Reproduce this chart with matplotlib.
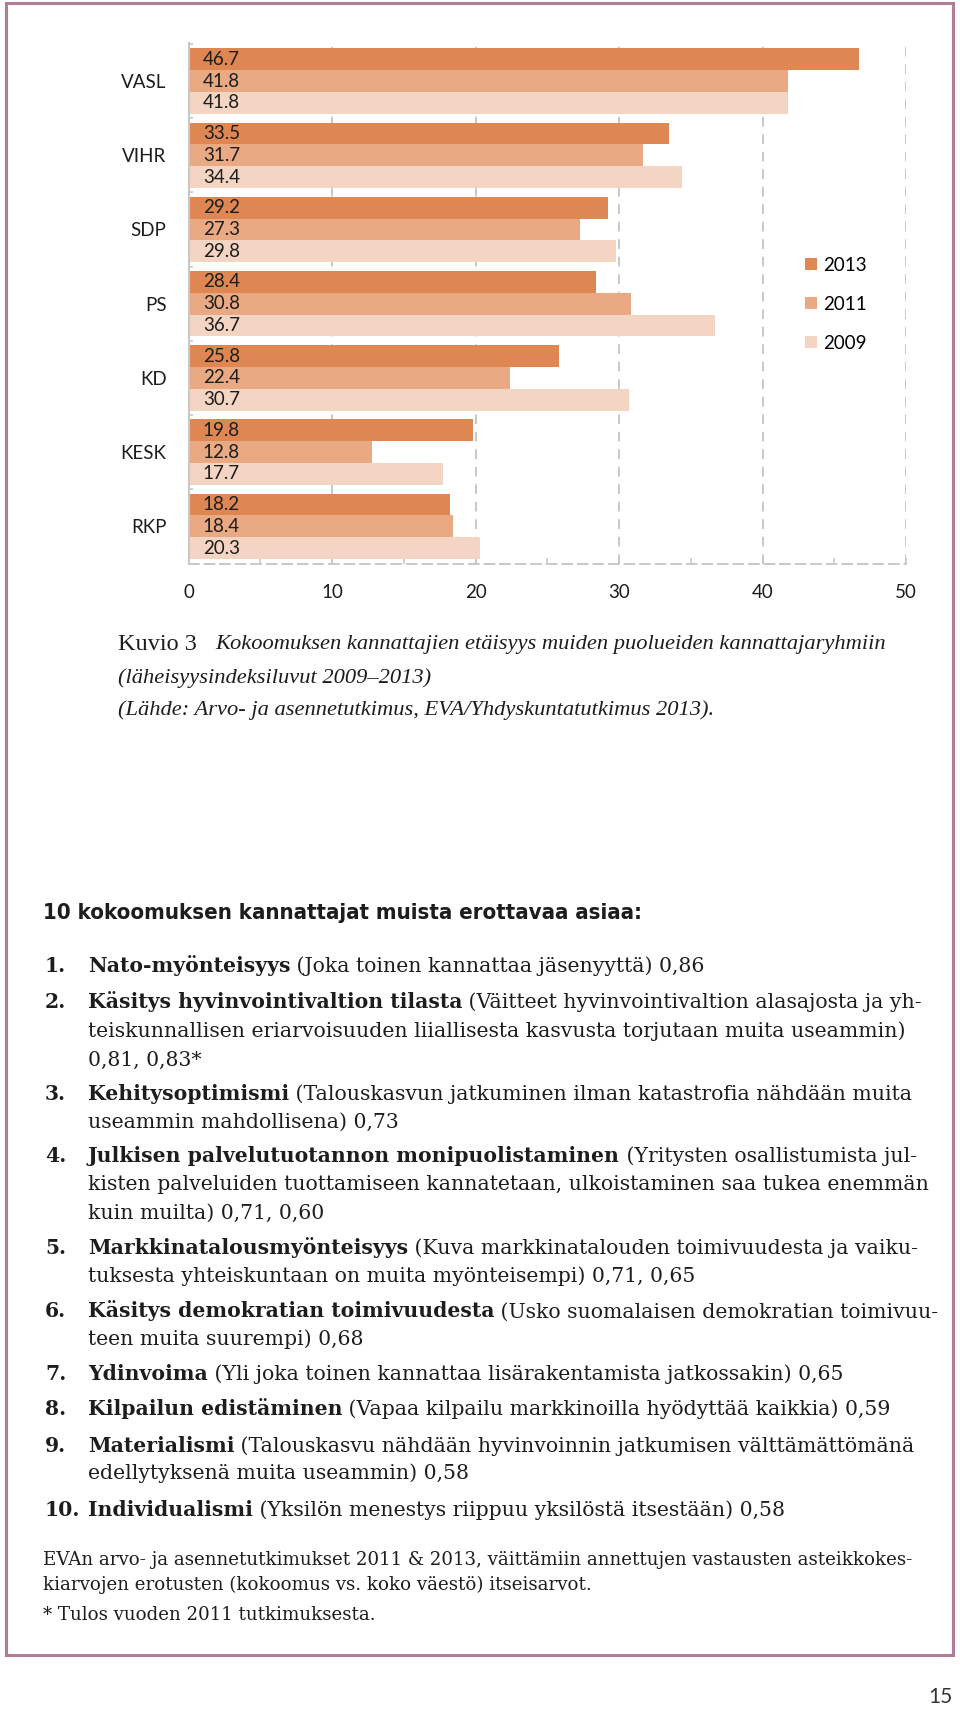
import numpy as np
import matplotlib
matplotlib.use('Agg')
import matplotlib.pyplot as plt
from matplotlib.patches import Rectangle

# chart data
parties = ['VASL', 'VIHR', 'SDP', 'PS', 'KD', 'KESK', 'RKP']
years = ['2013', '2011', '2009']
v2013 = [46.7, 33.5, 29.2, 28.4, 25.8, 19.8, 18.2]
v2011 = [41.8, 31.7, 27.3, 30.8, 22.4, 12.8, 18.4]
v2009 = [41.8, 34.4, 29.8, 36.7, 30.7, 17.7, 20.3]
xticks = [0, 10, 20, 30, 40, 50]

caption_lead = 'Kuvio 3'
caption_lines = [
    'Kokoomuksen kannattajien etäisyys muiden puolueiden kannattajaryhmiin',
    '(läheisyysindeksiluvut 2009–2013)',
    '(Lähde: Arvo- ja asennetutkimus, EVA/Yhdyskuntatutkimus 2013).',
]
heading = '10 kokoomuksen kannattajat muista erottavaa asiaa:'

items = [
    ('Nato-myönteisyys', ['(Joka toinen kannattaa jäsenyyttä) 0,86']),
    ('Käsitys hyvinvointivaltion tilasta', ['(Väitteet hyvinvointivaltion alasajosta ja yh-',
                                            'teiskunnallisen eriarvoisuuden liiallisesta kasvusta torjutaan muita useammin)',
                                            '0,81, 0,83*']),
    ('Kehitysoptimismi', ['(Talouskasvun jatkuminen ilman katastrofia nähdään muita',
                          'useammin mahdollisena) 0,73']),
    ('Julkisen palvelutuotannon monipuolistaminen', ['(Yritysten osallistumista jul-',
                                                     'kisten palveluiden tuottamiseen kannatetaan, ulkoistaminen saa tukea enemmän',
                                                     'kuin muilta) 0,71, 0,60']),
    ('Markkinatalousmyönteisyys', ['(Kuva markkinatalouden toimivuudesta ja vaiku-',
                                   'tuksesta yhteiskuntaan on muita myönteisempi) 0,71, 0,65']),
    ('Käsitys demokratian toimivuudesta', ['(Usko suomalaisen demokratian toimivuu-',
                                           'teen muita suurempi) 0,68']),
    ('Ydinvoima', ['(Yli joka toinen kannattaa lisärakentamista jatkossakin) 0,65']),
    ('Kilpailun edistäminen', ['(Vapaa kilpailu markkinoilla hyödyttää kaikkia) 0,59']),
    ('Materialismi', ['(Talouskasvu nähdään hyvinvoinnin jatkumisen välttämättömänä',
                      'edellytyksenä muita useammin) 0,58']),
    ('Individualismi', ['(Yksilön menestys riippuu yksilöstä itsestään) 0,58']),
]
footnotes = [
    'EVAn arvo- ja asennetutkimukset 2011 & 2013, väittämiin annettujen vastausten asteikkokes-',
    'kiarvojen erotusten (kokoomus vs. koko väestö) itseisarvot.',
    '* Tulos vuoden 2011 tutkimuksesta.',
]
page_number = '15'

W, H = 960, 1709
TXT = '#1d1d1b'
GRID = '#c8c8c8'
colors = ['#df8752', '#e9a983', '#f4d5c3']
SANS = ['Lato', 'DejaVu Sans']
SERIF = ['DejaVu Serif']
CAP_SERIF = ['Liberation Serif', 'DejaVu Serif']
NARROW = ['DejaVu Sans']


def fx(x):
    return x / W


def fy(y):
    return 1 - y / H


fig = plt.figure(figsize=(9.6, 17.09), dpi=100)
renderer = fig.canvas.get_renderer()

# ---- bar chart ----
ax = fig.add_axes([fx(188.6), fy(563.5), (906 - 188.6) / W, (563.5 - 42.7) / H])
pitch = 3.4
base = np.arange(len(parties)) * pitch
series = [v2013, v2011, v2009]
bars = []
for i, (vals, col, yr) in enumerate(zip(series, colors, years)):
    b = ax.barh(base + i, vals, height=1.0, align='edge', color=col, label=yr, linewidth=0)
    bars.append(b)
    for y0, v in zip(base + i, vals):
        ax.annotate(f'{v:.1f}', xy=(0, y0 + 0.5), xytext=(10.3, 0), textcoords='offset points',
                    ha='left', va='center', fontsize=13.5, family=SANS, color=TXT)

ax.set_xlim(0, 50)
ax.set_ylim(base[-1] + 3 + 0.14, -0.256)
ax.set_axisbelow(True)
ax.set_xticks(xticks)
ax.set_xticks([5, 15, 25, 35, 45], minor=True)
ax.set_xticklabels([str(t) for t in xticks], family=SANS, fontsize=13.5, color=TXT)
ax.tick_params(axis='x', which='both', direction='in', length=4, width=1.2, color=GRID, pad=15)
ax.set_yticks(base + 1.5)
ax.set_yticklabels(parties, family=SANS, fontsize=13.5, color=TXT)
ax.set_yticks(list(base - 0.2) + [base[-1] + 3.2], minor=True)
ax.tick_params(axis='y', which='major', length=0, pad=16)
ax.tick_params(axis='y', which='minor', direction='in', length=3, width=1.2, color=GRID)
ax.xaxis.grid(True, color=GRID, linestyle=(0, (5, 4)), linewidth=1.4)
ax.spines['top'].set_visible(False)
ax.spines['right'].set_visible(False)
ax.spines['left'].set_color(GRID)
ax.spines['left'].set_linewidth(1.5)
ax.spines['bottom'].set_color(GRID)
ax.spines['bottom'].set_linewidth(1.4)
ax.spines['bottom'].set_linestyle((0, (5, 3)))

ax.legend(handles=bars, labels=years, loc='upper left', bbox_to_anchor=(fx(805), fy(257)),
          bbox_transform=fig.transFigure, frameon=False, borderpad=0, borderaxespad=0,
          handlelength=0.62, handleheight=0.62, handletextpad=0.35, labelspacing=1.17,
          prop={'family': SANS, 'size': 13.5})


# ---- text helpers ----
def measure(segs, size, family, stretch='normal'):
    total = 0
    for s, w, st in segs:
        t = fig.text(0, 0, s, fontsize=size, family=family, weight=w, style=st, stretch=stretch)
        total += t.get_window_extent(renderer).width
        t.remove()
    return total


def fit_size(segs, family, target, stretch='normal'):
    return 12 * target / measure(segs, 12, family, stretch)


def draw_line(x, yc, segs, size, family, cap=0.73, stretch='normal'):
    cur = x
    yb = fy(yc + cap * size * 100 / 72 / 2)
    for s, w, st in segs:
        t = fig.text(fx(cur), yb, s, ha='left', va='baseline', fontsize=size,
                     family=family, weight=w, style=st, stretch=stretch, color=TXT)
        cur += t.get_window_extent(renderer).width
    return cur


# ---- caption ----
cap_size = fit_size([(caption_lines[0], 'normal', 'italic')], CAP_SERIF, 886 - 215)
cap_y = [642, 676, 708]
draw_line(118, cap_y[0], [(caption_lead, 'normal', 'normal')], cap_size * 1.08, CAP_SERIF, cap=0.66)
draw_line(215, cap_y[0], [(caption_lines[0], 'normal', 'italic')], cap_size, CAP_SERIF, cap=0.66)
for line, y in zip(caption_lines[1:], cap_y[1:]):
    draw_line(118, y, [(line, 'normal', 'italic')], cap_size, CAP_SERIF, cap=0.66)

# ---- heading ----
head_size = fit_size([(heading, 'bold', 'normal')], NARROW, 640 - 43, stretch='condensed')
draw_line(43, 911, [(heading, 'bold', 'normal')], head_size, NARROW, cap=0.73, stretch='condensed')

# ---- numbered list ----
list_size = fit_size([(items[1][0], 'bold', 'normal'), (' ' + items[1][1][0], 'normal', 'normal')],
                     SERIF, 915 - 88)
line_y = [[965], [1001, 1029.5, 1058], [1092.5, 1120], [1155, 1183, 1211.5],
          [1247, 1274.5], [1310, 1337.5], [1373], [1408], [1444.5, 1472], [1508.5]]
for k, ((bold, rest), ys) in enumerate(zip(items, line_y)):
    draw_line(45, ys[0], [(f'{k + 1}.', 'bold', 'normal')], list_size, SERIF)
    draw_line(88, ys[0], [(bold, 'bold', 'normal'), (' ' + rest[0], 'normal', 'normal')],
              list_size, SERIF)
    for line, y in zip(rest[1:], ys[1:]):
        draw_line(88, y, [(line, 'normal', 'normal')], list_size, SERIF)

# ---- footnotes ----
foot_size = fit_size([(footnotes[0], 'normal', 'normal')], SERIF, 912 - 43)
for line, y in zip(footnotes, [1558.5, 1583.5, 1613.5]):
    draw_line(43, y, [(line, 'normal', 'normal')], foot_size, SERIF)

# ---- frame and page number ----
fig.add_artist(Rectangle((fx(6), fy(1655)), (953 - 6) / W, (1655 - 3) / H, transform=fig.transFigure,
                         fill=False, edgecolor='#b07c98', linewidth=2.2))
fig.text(fx(953), fy(1697), page_number, ha='right', va='center', family=SANS,
         fontsize=15, color='#333333')

fig.savefig('out.png', dpi=100, facecolor='white')
